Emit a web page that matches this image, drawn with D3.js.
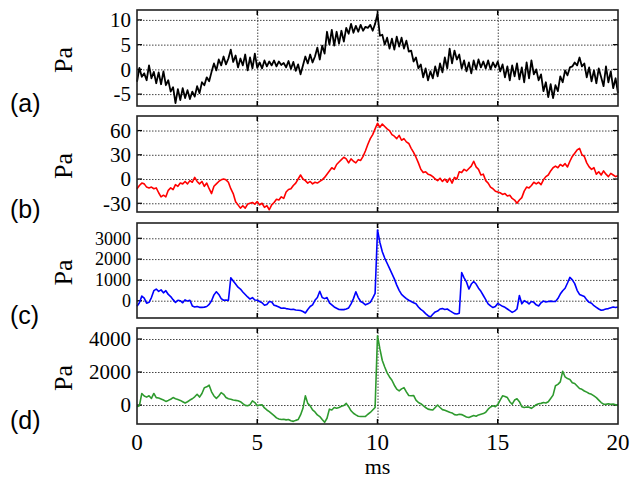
<!DOCTYPE html>
<html>
<head>
<meta charset="utf-8">
<script src="https://cdn.jsdelivr.net/npm/d3@7"></script>
<style>
  body { margin: 0; background: #fff; }
  .grid line { stroke: #444; stroke-width: 1; stroke-dasharray: 1.5,1.5; }
  .grid path { display: none; }
  .ylab text { font-family: "Liberation Serif", "DejaVu Serif", serif; fill: #000; }
  .ylab path, .ylab line { display: none; }
</style>
</head>
<body>
<div id="chart"></div>
<script>
// sampled every 0.1 ms, 0 .. 20 ms
var timeStep = 0.1;
var xTicks = [0, 5, 10, 15, 20];
var panelLabels = ["(a)", "(b)", "(c)", "(d)"];

var pressureA = [
  -2.5, 0.3, -1.5, -0.8, -2.2, 0.8, -1.8, -0.5, -2.8, -0.6,
  -3.0, -0.4, -3.2, -2.2, -4.5, -3.6, -6.8, -4.0, -6.2, -3.8,
  -5.8, -4.2, -6.0, -4.5, -5.5, -3.4, -4.8, -2.6, -3.2, -1.6,
  -2.4, -0.5, 1.2, -0.2, 2.0, 0.8, 2.6, 1.0, 2.2, 4.0,
  1.5, 2.8, 0.4, 2.2, 0.8, 3.0, -0.2, 2.4, 0.2, 3.2,
  0.3, 1.4, 0.2, 1.8, 0.6, 1.6, 0.8, 1.8, 0.6, 1.6,
  0.9, 1.3, 0.4, 1.7, 0.1, 1.5, -0.3, 1.0, -1.0, 0.8,
  2.6, 1.2, 3.0, 1.4, 2.6, 4.4, 2.0, 4.8, 3.2, 7.6,
  5.0, 8.0, 4.8, 7.6, 5.2, 7.8, 5.6, 8.4, 7.2, 9.2,
  7.4, 8.8, 7.6, 9.0, 7.8, 8.6, 8.4, 9.0, 7.8, 9.2,
  11.2, 6.8, 7.0, 5.0, 6.4, 4.2, 6.2, 4.0, 6.6, 4.6,
  6.4, 4.2, 5.8, 3.6, 3.8, 1.6, 2.4, 0.2, 1.0, -1.6,
  0.2, -2.2, -0.4, -1.8, 0.6, -1.4, 1.2, -0.6, 2.4, 0.2,
  4.2, 1.2, 3.8, 2.0, 3.0, 0.2, 1.8, -0.4, 1.4, -0.8,
  1.8, 0.0, 2.0, 0.4, 1.6, 0.2, 1.8, 0.0, 1.4, 0.4,
  1.6, -0.4, 1.0, -1.6, 0.6, -2.2, 0.8, -1.4, 1.2, -2.0,
  0.4, -2.6, 1.4, -1.8, 1.8, -1.0, 0.0, -2.2, -1.0, -4.4,
  -2.6, -5.6, -3.0, -5.8, -3.2, -4.4, -1.4, -2.6, -0.2, -1.2,
  0.4, 0.6, 1.4, 0.8, 2.4, 0.6, 1.2, -1.6, 0.4, -2.4,
  -0.2, -2.8, 0.2, -1.6, -3.4, 0.6, -2.6, -0.4, -3.8, -1.8,
  -4.8
];

var pressureB = [
  -12, -8, -5, -6, -10, -11, -10, -12, -11, -17,
  -22, -20, -22, -14, -11, -13, -7, -9, -5, -6,
  -3, -6, -2, -4, 2, -3, -6, -3, -9, -5,
  -12, -18, -9, -6, -3, -1, 0, -1, -4, -12,
  -18, -28, -32, -36, -33, -36, -31, -30, -29, -31,
  -28, -32, -30, -35, -33, -38, -32, -29, -25, -26,
  -22, -24, -16, -13, -12, -8, -5, 0, 5, 0,
  -2, -5, -3, -6, -4, -5, -3, -1, 2, 6,
  10, 14, 12, 18, 21, 24, 27, 25, 20, 25,
  22, 20, 24, 23, 28, 35, 43, 50, 55, 62,
  69, 64, 68, 65, 62, 60, 55, 53, 50, 54,
  48, 50, 46, 44, 38, 33, 27, 20, 12, 8,
  9, 6, 5, 3, 0, -2, 1, -3, 0, -4,
  1, -5, 2, 0, 9, 8, 12, 10, 13, 16,
  22, 15, 12, 5, 6, -2, -5, -10, -12, -15,
  -16, -17, -19, -18, -21, -20, -24, -26, -30, -26,
  -23, -15, -10, -11, -8, -4, -6, -4, -7, -1,
  3, 5, 10, 14, 16, 14, 18, 16, 19, 15,
  22, 28, 32, 36, 38, 30, 28, 20, 15, 12,
  14, 6, 9, 5, 10, 6, 3, 7, 5, 3,
  4
];

var pressureC = [
  -270, -100, 220, 120, -120, -80, 150, 480, 560, 450,
  520, 380, 480, 300, 200, 50, -80, 20, 0, -100,
  40, -20, 20, -250, -300, -280, -320, -320, -310, -280,
  -180, 0, 280, 430, 300, 100, 20, 30, 10, 1100,
  950, 800, 650, 560, 420, 300, 180, 80, 150, 30,
  20, -40, -100, -220, -180, -40, -60, -220, -250, -300,
  -360, -350, -380, -400, -420, -410, -450, -460, -470, -520,
  -590, -420, -280, -200, 20, 150, 450, 150, 100, 150,
  -100, -200, -300, -360, -420, -430, -430, -400, -350, -150,
  100, 430, 150, -40, -100, -200, -150, -80, 120, 350,
  3400, 2800, 2350, 2050, 1800, 1550, 1300, 1050, 750, 500,
  300, 200, 100, 20, -40, -100, -150, -300, -420, -500,
  -620, -720, -780, -650, -540, -500, -400, -380, -420, -400,
  -480, -550, -620, -640, -600, 1350, 1100, 900, 560, 800,
  920, 800, 600, 450, 250, 50, -150, -250, -330, -280,
  -130, -200, -270, -320, -400, -480, -560, -500, -400, 250,
  -150, 0, -60, -150, -40, -80, -200, -250, -100, -20,
  -60, -40, -20, -40, -40, 100, 320, 480, 600, 850,
  1120, 1000, 820, 500, 300, 250, 200, 40, -80, -120,
  -240, -320, -400, -460, -440, -400, -380, -340, -300, -330,
  -300
];

var pressureD = [
  -100, -40, 700, 550, 480, 560, 400, 700, 450, 420,
  360, 300, 220, 280, 350, 450, 380, 330, 280, 200,
  120, 200, 300, 380, 500, 650, 480, 700, 1050, 1100,
  1200, 800, 550, 400, 550, 750, 650, 450, 380, 350,
  300, 280, 260, 200, 80, -20, -40, 20, 250, 150,
  -40, 0, 20, -180, -300, -400, -520, -640, -780, -850,
  -880, -860, -900, -880, -950, -990, -930, -880, -600, -200,
  560, 100, -50, -300, -420, -600, -700, -880, -1050, -800,
  -250, -300, -150, -200, -150, -80, -30, 100, -100, -350,
  -500, -600, -680, -700, -700, -690, -560, -450, -300, -150,
  4200, 3400, 2700, 2300, 1950, 1700, 1500, 1200, 960, 860,
  980, 1050, 800, 580, 560, 580, 300, 150, 80, -40,
  -150, -250, -280, -300, -150, 0, -150, -280, -320, -380,
  -440, -480, -580, -600, -560, -580, -650, -720, -760, -700,
  -640, -680, -600, -560, -520, -440, -250, -120, -50, -100,
  20, 300, 560, 520, 450, 200, 50, 300, 380, 200,
  -100, -150, -120, -130, -200, -100, 20, 80, 100, 150,
  120, 200, 400, 600, 1170, 1250, 1400, 2050, 1700, 1600,
  1550, 1350, 1300, 1150, 1000, 950, 850, 780, 700, 650,
  550, 450, 300, 150, 50, 40, 80, 40, 60, 10,
  -20
];

var yTicksA = [-5, 0, 5, 10];
var yTicksB = [-30, 0, 30, 60];
var yTicksC = [0, 1000, 2000, 3000];
var yTicksD = [0, 2000, 4000];

var lineColors = ["#000000", "#ff0000", "#0000ff", "#2e9a2e"];

var width = 632, height = 479;
var left = 137, right = 618;

var panels = [
  { data: pressureA, ticks: yTicksA, domain: [-7.4, 12], top: 10, bottom: 106, label: 112, fs: 21 },
  { data: pressureB, ticks: yTicksB, domain: [-40.8, 78], top: 116, bottom: 212, label: 218, fs: 21 },
  { data: pressureC, ticks: yTicksC, domain: [-832, 3735], top: 223, bottom: 318, label: 324, fs: 18 },
  { data: pressureD, ticks: yTicksD, domain: [-1150, 4667], top: 328, bottom: 424, label: 429, fs: 21 }
];

var svg = d3.select("#chart")
  .append("svg")
  .attr("width", width)
  .attr("height", height);

var x = d3.scaleLinear().domain([0, 20]).range([left, right]);

panels.forEach(function(p, i) {
  var y = d3.scaleLinear().domain(p.domain).range([p.bottom, p.top]);
  var g = svg.append("g");

  // dotted grid
  g.append("g")
    .attr("class", "grid")
    .attr("transform", "translate(" + left + ",0)")
    .call(d3.axisLeft(y).tickValues(p.ticks).tickSize(-(right - left)).tickFormat(""));

  g.append("g")
    .attr("class", "grid")
    .attr("transform", "translate(0," + p.bottom + ")")
    .call(d3.axisBottom(x).tickValues(xTicks.slice(1, -1)).tickSize(-(p.bottom - p.top)).tickFormat(""));

  // short solid tick marks on the frame
  p.ticks.forEach(function(t) {
    g.append("line").attr("x1", left).attr("x2", left + 5).attr("y1", y(t)).attr("y2", y(t))
      .attr("stroke", "#000").attr("stroke-width", 1.2);
    g.append("line").attr("x1", right - 5).attr("x2", right).attr("y1", y(t)).attr("y2", y(t))
      .attr("stroke", "#000").attr("stroke-width", 1.2);
  });
  xTicks.slice(1, -1).forEach(function(t) {
    g.append("line").attr("x1", x(t)).attr("x2", x(t)).attr("y1", p.top).attr("y2", p.top + 5)
      .attr("stroke", "#000").attr("stroke-width", 1.5);
    g.append("line").attr("x1", x(t)).attr("x2", x(t)).attr("y1", p.bottom - 5).attr("y2", p.bottom)
      .attr("stroke", "#000").attr("stroke-width", 1.5);
  });

  var line = d3.line()
    .x(function(d, k) { return x(k * timeStep); })
    .y(function(d) { return y(d); });

  g.append("path")
    .datum(p.data)
    .attr("d", line)
    .attr("fill", "none")
    .attr("stroke", lineColors[i])
    .attr("stroke-width", i == 0 ? 1.8 : 1.6)
    .attr("stroke-linejoin", "round");

  g.append("rect")
    .attr("x", left).attr("y", p.top)
    .attr("width", right - left).attr("height", p.bottom - p.top)
    .attr("fill", "none").attr("stroke", "#222").attr("stroke-width", 1.6);

  // y tick labels
  g.append("g")
    .attr("class", "ylab")
    .attr("transform", "translate(" + (left - 6) + ",0)")
    .call(d3.axisLeft(y).tickValues(p.ticks).tickSize(0).tickPadding(0)
      .tickFormat(function(d) { return String(d); }))
    .selectAll("text")
    .style("font-size", p.fs + "px");

  g.append("text")
    .attr("transform", "translate(72," + ((p.top + p.bottom) / 2 + 2) + ") rotate(-90)")
    .attr("text-anchor", "middle")
    .style("font-family", "Liberation Serif, serif")
    .style("font-size", "26px")
    .text("Pa");

  g.append("text")
    .attr("x", 10)
    .attr("y", p.label)
    .style("font-family", "Liberation Sans, Arial, sans-serif")
    .style("font-size", "25px")
    .text(panelLabels[i]);
});

// x tick labels at the bottom
svg.append("g")
  .selectAll("text")
  .data(xTicks)
  .enter()
  .append("text")
  .attr("x", function(d) { return x(d); })
  .attr("y", 450)
  .attr("text-anchor", "middle")
  .style("font-family", "Liberation Serif, serif")
  .style("font-size", "23px")
  .text(function(d) { return d; });

svg.append("text")
  .attr("x", x(10))
  .attr("y", 474)
  .attr("text-anchor", "middle")
  .style("font-family", "Liberation Serif, serif")
  .style("font-size", "22px")
  .text("ms");
</script>
</body>
</html>
